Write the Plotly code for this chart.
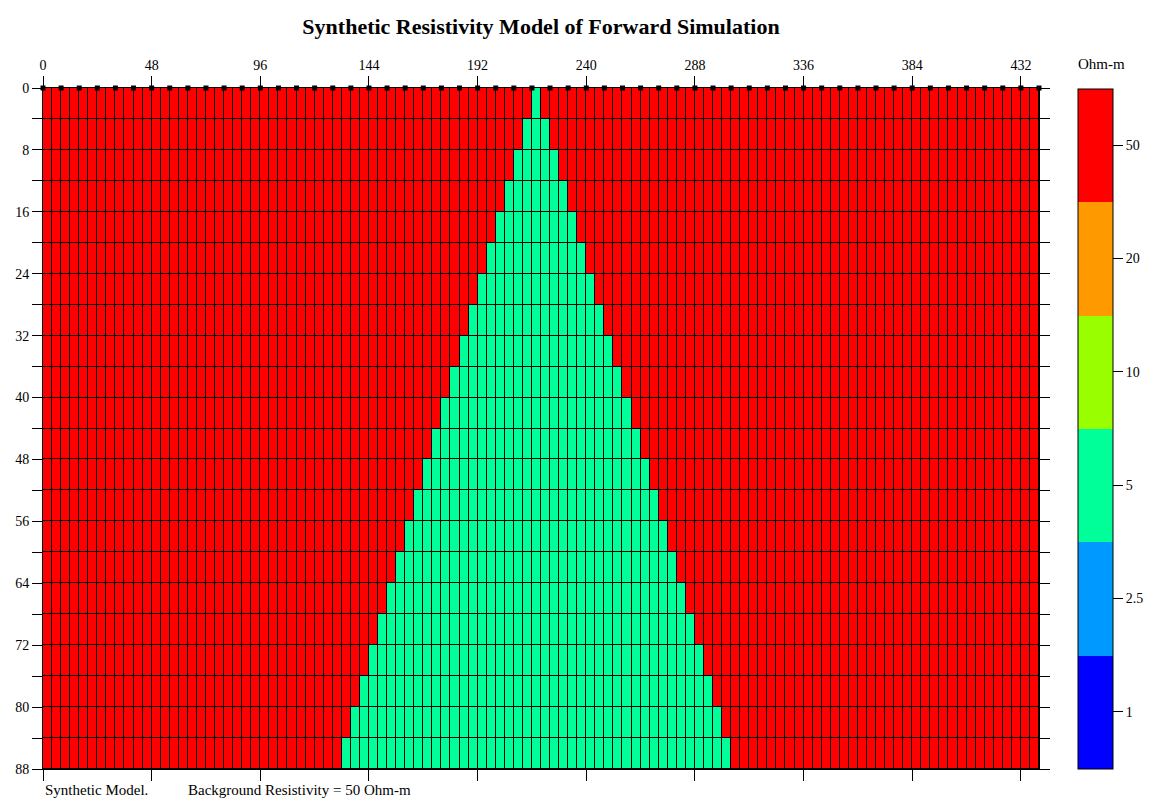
import plotly.graph_objects as go

# ---- data ----
x_edges = list(range(0, 444, 4))                    # 0 .. 440 (110 columns of width 4)
depth_edges = [0, 4, 8, 12, 16, 20, 24, 28, 32, 36, 40, 44, 48, 52, 56, 60,
               64, 68, 72, 76, 80, 84, 88]          # 22 rows
# anomaly (triangle) extent for each row, in x units
anomaly_left = [216, 212, 208, 204, 200, 196, 192, 188, 184, 180, 176, 172,
                168, 164, 160, 156, 152, 148, 144, 140, 136, 132]
anomaly_right = [220, 224, 228, 232, 236, 240, 244, 248, 252, 256, 260, 264,
                 268, 272, 276, 280, 284, 288, 292, 296, 300, 304]
background_resistivity = 50
anomaly_resistivity = 5
electrodes = list(range(0, 448, 8))                 # 0 .. 440
x_tick_vals = [0, 48, 96, 144, 192, 240, 288, 336, 384, 432]
y_tick_vals = depth_edges
y_tick_text = [str(v) if v % 8 == 0 else "" for v in depth_edges]
levels = [1, 2.5, 5, 10, 20, 50]
level_labels = ["1", "2.5", "5", "10", "20", "50"]
level_colors = ["rgb(0,0,255)", "rgb(0,153,255)", "rgb(0,255,153)",
                "rgb(153,255,0)", "rgb(255,153,0)", "rgb(255,0,0)"]

# ---- build grid ----
x_centers = [(a + b) / 2 for a, b in zip(x_edges[:-1], x_edges[1:])]
y_centers = [(a + b) / 2 for a, b in zip(depth_edges[:-1], depth_edges[1:])]
z = []
for r in range(len(y_centers)):
    row = []
    for xc in x_centers:
        val = anomaly_resistivity if anomaly_left[r] < xc < anomaly_right[r] else background_resistivity
        row.append(levels.index(val))
    z.append(row)

n = len(levels)
colorscale = []
for i, c in enumerate(level_colors):
    colorscale.append([i / n, c])
    colorscale.append([(i + 1) / n, c])

FONT = "Liberation Serif"
W, H = 1157, 802
ml, mr, mt, mb = 43, 118, 88, 33
plot_w = W - ml - mr
plot_h = H - mt - mb

fig = go.Figure()
fig.add_trace(go.Heatmap(
    x=x_centers, y=y_centers, z=z,
    colorscale=colorscale, zmin=-0.5, zmax=n - 0.5,
    xgap=1, ygap=1,
    colorbar=dict(
        tickvals=list(range(n)), ticktext=level_labels,
        thickness=35, thicknessmode="pixels",
        len=680, lenmode="pixels",
        x=(1078 - ml) / plot_w, xanchor="left", xpad=0,
        y=0.5, yanchor="middle", ypad=0,
        outlinecolor="black", outlinewidth=1,
        ticks="outside", ticklen=10, tickcolor="black", tickwidth=1,
        tickfont=dict(family=FONT, size=14, color="black"),
    ),
    showscale=True,
))
fig.add_trace(go.Scatter(
    x=electrodes, y=[0] * len(electrodes), mode="markers",
    marker=dict(symbol="square", size=5, color="black"),
    cliponaxis=False, showlegend=False, hoverinfo="skip",
))

fig.update_layout(
    width=W, height=H,
    margin=dict(l=ml, r=mr, t=mt, b=mb),
    paper_bgcolor="white", plot_bgcolor="black",
    showlegend=False,
    title=dict(text="<b>Synthetic Resistivity Model of Forward Simulation</b>",
               x=0.5, xref="paper", xanchor="center",
               y=1 - 26 / H, yref="container", yanchor="middle",
               font=dict(family=FONT, size=22, color="black")),
    xaxis=dict(range=[0, 440], side="top", tickvals=x_tick_vals,
               ticks="outside", ticklen=11, tickcolor="black", tickwidth=1,
               showline=True, linecolor="black", linewidth=1, mirror="ticks",
               showgrid=False, zeroline=False,
               tickfont=dict(family=FONT, size=14, color="black")),
    yaxis=dict(range=[88, 0], tickvals=y_tick_vals, ticktext=y_tick_text,
               ticks="outside", ticklen=10, tickcolor="black", tickwidth=1,
               showline=True, linecolor="black", linewidth=1, mirror="ticks",
               showgrid=False, zeroline=False,
               tickfont=dict(family=FONT, size=14, color="black")),
    annotations=[
        dict(text="Ohm-m", xref="paper", yref="paper",
             x=(1076 - ml) / plot_w, y=1 + 24 / plot_h,
             xanchor="left", yanchor="middle", showarrow=False,
             font=dict(family=FONT, size=15, color="black")),
        dict(text="Synthetic Model.", xref="paper", yref="paper",
             x=0, y=-21 / plot_h, xanchor="left", yanchor="middle",
             showarrow=False, font=dict(family=FONT, size=15, color="black")),
        dict(text="Background Resistivity = 50 Ohm-m", xref="paper", yref="paper",
             x=(186 - ml) / plot_w, y=-21 / plot_h,
             xanchor="left", yanchor="middle",
             showarrow=False, font=dict(family=FONT, size=15, color="black")),
    ],
)

fig.write_html("out.html")
